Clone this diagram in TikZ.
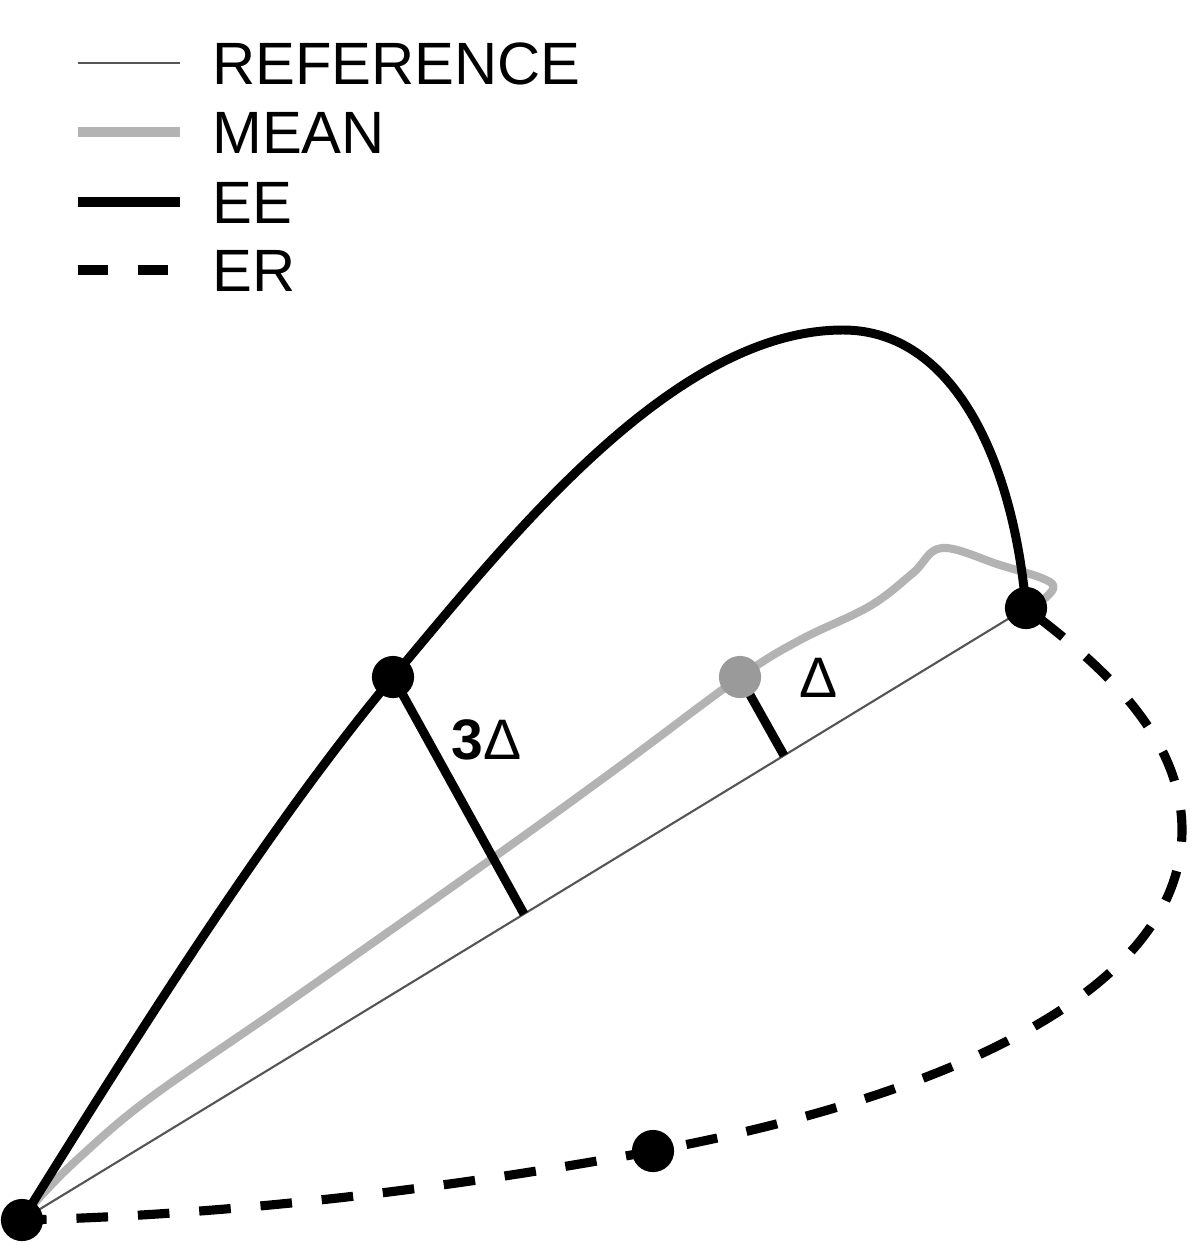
\documentclass[tikz,border=0pt]{standalone}
\usepackage{fontspec}
\setmainfont{Liberation Sans}
\usetikzlibrary{calc}
\definecolor{refgray}{HTML}{555555}
\definecolor{meangray}{HTML}{B3B3B3}
\definecolor{dotgray}{HTML}{9A9A9A}
\begin{document}
\begin{tikzpicture}[x=0.02cm,y=-0.02cm,
  refline/.style={draw=refgray,line width=1.2pt},
  meanline/.style={draw=meangray,line width=4.6pt,line cap=round,line join=round},
  eeline/.style={draw=black,line width=5.1pt},
  erline/.style={draw=black,line width=5.2pt,dash pattern=on 18pt off 17pt,dash phase=4pt},
  dotnode/.style={circle,fill=black,inner sep=0pt,minimum size=24pt},
  legtext/.style={anchor=base west,inner sep=0pt,font=\fontsize{34}{40}\selectfont},
  lbl/.style={anchor=base west,inner sep=0pt,font=\fontsize{32.5}{38}\selectfont}]
\useasboundingbox (0,0) rectangle (1200,1245);
% key points
\coordinate (O) at (22,1220);
\coordinate (A) at (393,677);
\coordinate (B) at (1026,608);
\coordinate (G) at (740,677);
\coordinate (M) at (653,1151);
\coordinate (P) at (843,330);
\coordinate (R) at (1182,830);
\coordinate (FA) at ($(O)!0.5!(B)$);
\coordinate (FG) at ($(O)!0.759!(B)$);
% legend
\coordinate (L1a) at (78,63);  \coordinate (L1b) at (180,63);
\coordinate (L2a) at (78,132); \coordinate (L2b) at (180,132);
\coordinate (L3a) at (78,202); \coordinate (L3b) at (180,202);
\coordinate (L4a) at (78,270); \coordinate (L4b) at (170,270);
\draw[draw=refgray,line width=1.2pt] (L1a) -- (L1b);
\draw[draw=meangray,line width=5.7pt] (L2a) -- (L2b);
\draw[draw=black,line width=5.7pt] (L3a) -- (L3b);
\draw[draw=black,line width=6pt,dash pattern=on 17pt off 17pt] (L4a) -- (L4b);
\node[legtext] (tref) at (212,84) {REFERENCE};
\node[legtext] (tmean) at (212,153) {MEAN};
\node[legtext] (tee) at (212,223) {EE};
\node[legtext] (ter) at (212,291) {ER};
% reference line
\draw[refline] (O) -- (B);
% mean line
\draw[meanline] plot[smooth,tension=0.6] coordinates {(O) (40,1197) (80,1157) (150,1098) (290,1001) (490,860) (620,766) (G) (800,640) (870,606) (913,573) (942,548) (1000,565) (1044,579) (1053,589) (1036,606)};
% EE curve
\draw[eeline] (O) .. controls (128,1050) and (265,830) .. (A)
  .. controls (509,539) and (673,330) .. (P)
  .. controls (953,330) and (1013,459) .. (B);
% perpendiculars
\draw[eeline] (A) -- (FA);
\draw[eeline] (G) -- (FG);
% ER curve
\draw[erline] (O) .. controls (232,1215) and (447,1189) .. (M)
  .. controls (948,1096) and (1182,990) .. (R)
  .. controls (1182,730) and (1090,657) .. (B);
% dots
\node[dotnode] (Odot) at (O) {};
\node[dotnode] (Adot) at (A) {};
\node[dotnode] (Bdot) at (B) {};
\node[dotnode] (Mdot) at (M) {};
\node[dotnode,fill=dotgray] (Gdot) at (G) {};
% labels
\node[lbl] (l3d) at (451,759) {\textbf{3}Δ};
\node[lbl] (ld) at (799,697) {Δ};
\end{tikzpicture}
\end{document}
